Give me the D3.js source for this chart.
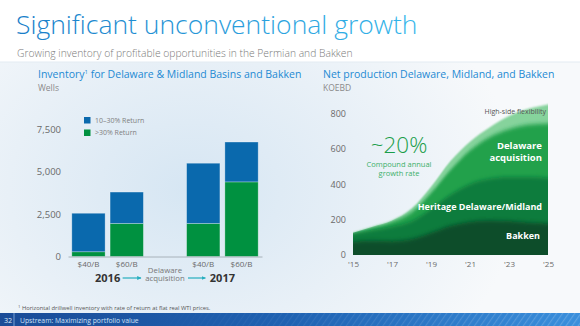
<!DOCTYPE html>
<html>
<head>
<meta charset="utf-8">
<script src="https://cdn.jsdelivr.net/npm/d3@7"></script>
<style>
  html, body { margin: 0; padding: 0; background: #fff; }
  svg { display: block; font-family: "Open Sans", sans-serif; }
</style>
</head>
<body>
<div id="chart"></div>
<script>
// inventory (wells) by price deck, before and after the Delaware acquisition
var invSlots = ["2016-40", "2016-60", "Delaware acquisition", "2017-40", "2017-60"];
var invLabels = ["$40/B", "$60/B", "$40/B", "$60/B"];
var invKeys = ["2016-40", "2016-60", "2017-40", "2017-60"];
var invHigh = [280, 1950, 1950, 4400];   // >30% return
var invMid = [2270, 1850, 3550, 2350];   // 10-30% return
var invTicks = [0, 2500, 5000, 7500];

// net production, KOEBD
var years = [2015, 2016, 2017, 2018, 2019, 2020, 2021, 2022, 2023, 2024, 2025];
var bakken = [75, 80, 78, 90, 125, 165, 188, 195, 192, 183, 178];
var heritage = [47, 60, 82, 100, 135, 175, 212, 235, 248, 257, 257];
var delaware = [0, 15, 28, 50, 90, 140, 190, 235, 270, 295, 307];
var highSide = [3, 5, 7, 22, 35, 50, 50, 55, 75, 90, 108];
var prodTicks = [0, 200, 400, 600, 800];
var yearTicks = [2015, 2017, 2019, 2021, 2023, 2025];

var W = 580, H = 326;
var svg = d3.select("#chart").append("svg")
    .attr("width", W)
    .attr("height", H);

var defs = svg.append("defs");

// page background
var bg = defs.append("radialGradient")
    .attr("id", "bg")
    .attr("gradientUnits", "userSpaceOnUse")
    .attr("cx", 190).attr("cy", 190).attr("r", 330)
    .attr("gradientTransform", "translate(190,190) scale(1,0.75) translate(-190,-190)");
bg.append("stop").attr("offset", 0).attr("stop-color", "#d6e6f3");
bg.append("stop").attr("offset", 0.55).attr("stop-color", "#e8f0f7");
bg.append("stop").attr("offset", 1).attr("stop-color", "#f7f9fb");

svg.append("rect").attr("width", W).attr("height", H).attr("fill", "#fff");
svg.append("rect")
    .attr("y", 62).attr("width", W).attr("height", H - 62)
    .attr("fill", "url(#bg)");
svg.append("line")
    .attr("x1", 0).attr("x2", W).attr("y1", 62).attr("y2", 62)
    .attr("stroke", "#e3ebf2").attr("stroke-width", 1);

// title
var tg = defs.append("linearGradient").attr("id", "titleGrad")
    .attr("x1", 0).attr("x2", 1).attr("y1", 0).attr("y2", 0);
tg.append("stop").attr("offset", 0).attr("stop-color", "#1a7dc8");
tg.append("stop").attr("offset", 1).attr("stop-color", "#35b6ea");

svg.append("text")
    .attr("x", 16).attr("y", 34)
    .attr("font-size", 26.5)
    .attr("font-weight", 300)
    .attr("fill", "url(#titleGrad)")
    .text("Significant unconventional growth");

svg.append("text")
    .attr("x", 17).attr("y", 56.5)
    .attr("font-size", 10.3)
    .attr("font-weight", 300)
    .attr("fill", "#7a7a7a")
    .text("Growing inventory of profitable opportunities in the Permian and Bakken");

// ---------- left: inventory bars ----------
var inv = svg.append("g");

inv.append("text")
    .attr("x", 38).attr("y", 78)
    .attr("font-size", 10.5)
    .attr("fill", "#1e8ad3")
    .call(function(t) {
      t.append("tspan").text("Inventory");
      t.append("tspan").attr("font-size", 6).attr("dy", -4).text("1");
      t.append("tspan").attr("dy", 4).text(" for Delaware & Midland Basins and Bakken");
    });
inv.append("text")
    .attr("x", 38).attr("y", 91)
    .attr("font-size", 8.5)
    .attr("fill", "#8a8a8a")
    .text("Wells");

var xb = d3.scaleBand()
    .domain(invSlots)
    .range([68, 262])
    .paddingInner(0.13)
    .paddingOuter(0.1);

var yb = d3.scaleLinear()
    .domain([0, 7500])
    .range([256.5, 129.3]);

var invRows = invKeys.map(function(k, i) {
  return { key: k, high: invHigh[i], mid: invMid[i] };
});
var invStack = d3.stack().keys(["high", "mid"])(invRows);
var invColors = { high: "#009140", mid: "#0a69ad" };

inv.selectAll("g.layer")
  .data(invStack)
  .join("g")
    .attr("class", "layer")
    .attr("fill", function(d) { return invColors[d.key]; })
  .selectAll("rect")
  .data(function(d) { return d; })
  .join("rect")
    .attr("x", function(d) { return xb(d.data.key); })
    .attr("width", xb.bandwidth())
    .attr("y", function(d) { return yb(d[1]); })
    .attr("height", function(d) { return yb(d[0]) - yb(d[1]); })
    .attr("stroke", "#ffffff")
    .attr("stroke-opacity", 0.35)
    .attr("stroke-width", 0.8);

// y axis labels only
inv.append("g")
    .attr("transform", "translate(61,0)")
    .call(d3.axisLeft(yb).tickValues(invTicks).tickSize(0).tickPadding(0).tickFormat(d3.format(",")))
    .call(function(g) { g.select(".domain").remove(); })
    .call(function(g) {
      g.selectAll("text")
        .attr("font-family", "'Open Sans', sans-serif")
        .attr("font-size", 9.5)
        .attr("fill", "#6a6a6a");
    });

// baseline + price deck labels
var xAxisB = d3.axisBottom(xb)
    .tickSize(0)
    .tickPadding(5)
    .tickFormat(function(d) {
      var i = invKeys.indexOf(d);
      return i < 0 ? "" : invLabels[i];
    });
inv.append("g")
    .attr("transform", "translate(0," + yb(0) + ")")
    .call(xAxisB)
    .call(function(g) {
      g.select(".domain").attr("stroke", "#9aa3ab").attr("stroke-width", 0.8);
      g.selectAll("text")
        .attr("font-family", "'Open Sans', sans-serif")
        .attr("font-size", 8)
        .attr("fill", "#6a6a6a");
    });

// "Delaware acquisition" under the empty slot
var acqX = xb("Delaware acquisition") + xb.bandwidth() / 2;
inv.append("text")
    .attr("x", acqX).attr("y", 272.5)
    .attr("text-anchor", "middle")
    .attr("font-size", 7.8).attr("fill", "#777")
    .text("Delaware");
inv.append("text")
    .attr("x", acqX).attr("y", 281)
    .attr("text-anchor", "middle")
    .attr("font-size", 7.8).attr("fill", "#777")
    .text("acquisition");

// year labels centred under each pair
var pairs = [["2016", "2016-40", "2016-60"], ["2017", "2017-40", "2017-60"]];
pairs.forEach(function(p) {
  var cx = (xb(p[1]) + xb(p[2]) + xb.bandwidth()) / 2;
  inv.append("text")
      .attr("x", cx).attr("y", 282)
      .attr("text-anchor", "middle")
      .attr("font-size", 11)
      .attr("font-weight", 700)
      .attr("fill", "#333")
      .text(p[0]);
});

// teal arrows either side of the acquisition label
defs.append("marker")
    .attr("id", "arrowHead")
    .attr("viewBox", "0 0 10 10")
    .attr("refX", 8).attr("refY", 5)
    .attr("markerWidth", 4).attr("markerHeight", 4)
    .attr("orient", "auto")
  .append("path")
    .attr("d", "M0,1 L9,5 L0,9 Z")
    .attr("fill", "#26aebf");

var yr2016 = (xb("2016-40") + xb("2016-60") + xb.bandwidth()) / 2;
var yr2017 = (xb("2017-40") + xb("2017-60") + xb.bandwidth()) / 2;
[[yr2016 + 15, acqX - 24], [acqX + 23, yr2017 - 17]].forEach(function(a) {
  inv.append("line")
      .attr("x1", a[0]).attr("x2", a[1])
      .attr("y1", 278).attr("y2", 278)
      .attr("stroke", "#26aebf")
      .attr("stroke-width", 1.2)
      .attr("marker-end", "url(#arrowHead)");
});

// legend
var legend = inv.append("g").attr("transform", "translate(84,117)");
[["10–30% Return", invColors.mid], [">30% Return", invColors.high]].forEach(function(l, i) {
  legend.append("rect")
      .attr("y", i * 12.5)
      .attr("width", 6.5).attr("height", 6.5)
      .attr("fill", l[1]);
  legend.append("text")
      .attr("x", 11).attr("y", i * 12.5 + 5.8)
      .attr("font-size", 7)
      .attr("fill", "#808080")
      .text(l[0]);
});

// ---------- right: production stacked area ----------
var prod = svg.append("g");

prod.append("text")
    .attr("x", 323).attr("y", 78)
    .attr("font-size", 10.5)
    .attr("fill", "#1e8ad3")
    .text("Net production Delaware, Midland, and Bakken");
prod.append("text")
    .attr("x", 323).attr("y", 91)
    .attr("font-size", 8.5)
    .attr("fill", "#8a8a8a")
    .text("KOEBD");

var xp = d3.scaleLinear().domain([2015, 2025]).range([353, 548]);
var yp = d3.scaleLinear().domain([0, 800]).range([255, 113.3]);

var prodRows = years.map(function(y, i) {
  return { year: y, bakken: bakken[i], heritage: heritage[i], delaware: delaware[i], highSide: highSide[i] };
});
var layerKeys = ["bakken", "heritage", "delaware", "highSide"];
var prodStack = d3.stack().keys(layerKeys)(prodRows);
var layerColors = { bakken: "#094d2a", heritage: "#0f7b3d", delaware: "#21a14c", highSide: "#86d39c" };

// soft vertical blur for the layer boundaries
defs.append("filter")
    .attr("id", "softEdge")
    .attr("x", "-0.05").attr("width", "1.1")
    .attr("y", "-0.3").attr("height", "1.6")
  .append("feGaussianBlur")
    .attr("stdDeviation", "0 2.2");
defs.append("filter")
    .attr("id", "softTop")
    .attr("x", "-0.05").attr("width", "1.1")
    .attr("y", "-0.3").attr("height", "1.6")
  .append("feGaussianBlur")
    .attr("stdDeviation", "0 1.2");

var outer = prodStack[prodStack.length - 1];

// each layer drawn from below the baseline up to its cumulative top
var layerArea = d3.area()
    .x(function(d) { return xp(d.data.year); })
    .y0(yp(-30))
    .y1(function(d) { return yp(d[1]); })
    .curve(d3.curveMonotoneX);

var envelope = d3.area()
    .x(function(d) { return xp(d.data.year); })
    .y0(yp(0))
    .y1(function(d) { return yp(d[1]); })
    .curve(d3.curveMonotoneX);

defs.append("clipPath").attr("id", "plotClip")
  .append("rect")
    .attr("x", xp(2015)).attr("width", xp(2025) - xp(2015))
    .attr("y", yp(900)).attr("height", yp(0) - yp(900));
defs.append("clipPath").attr("id", "envClip")
  .append("path")
    .attr("d", envelope(outer));

prod.append("g")
    .attr("clip-path", "url(#plotClip)")
  .append("path")
    .attr("d", layerArea(outer))
    .attr("fill", layerColors.highSide)
    .attr("filter", "url(#softTop)");

prod.append("g")
    .attr("clip-path", "url(#envClip)")
  .selectAll("path")
  .data(prodStack.slice(0, 3).reverse())
  .join("path")
    .attr("d", layerArea)
    .attr("fill", function(d) { return layerColors[d.key]; })
    .attr("filter", "url(#softEdge)");

// axes (labels only)
prod.append("g")
    .attr("transform", "translate(346,0)")
    .call(d3.axisLeft(yp).tickValues(prodTicks).tickSize(0).tickPadding(0))
    .call(function(g) { g.select(".domain").remove(); })
    .call(function(g) {
      g.selectAll("text")
        .attr("font-family", "'Open Sans', sans-serif")
        .attr("font-size", 9)
        .attr("fill", "#6a6a6a");
    });

prod.append("g")
    .attr("transform", "translate(0," + yp(0) + ")")
    .call(d3.axisBottom(xp).tickValues(yearTicks).tickSize(0).tickPadding(6)
      .tickFormat(function(d) { return "'" + String(d).slice(2); }))
    .call(function(g) { g.select(".domain").remove(); })
    .call(function(g) {
      g.selectAll("text")
        .attr("font-family", "'Open Sans', sans-serif")
        .attr("font-size", 8)
        .attr("fill", "#6a6a6a");
    });

// layer labels
var lbl = prod.append("g")
    .attr("text-anchor", "end")
    .attr("font-weight", 700)
    .attr("fill", "#fff");
lbl.append("text").attr("x", 542).attr("y", 149).attr("font-size", 9.5).text("Delaware");
lbl.append("text").attr("x", 542).attr("y", 160.5).attr("font-size", 9.5).text("acquisition");
lbl.append("text").attr("x", 542).attr("y", 210).attr("font-size", 9).text("Heritage Delaware/Midland");
lbl.append("text").attr("x", 540).attr("y", 238.5).attr("font-size", 9).text("Bakken");

prod.append("text")
    .attr("x", 546).attr("y", 114)
    .attr("text-anchor", "end")
    .attr("font-size", 7)
    .attr("fill", "#555")
    .text("High-side flexibility");

// growth callout
prod.append("text")
    .attr("x", 399).attr("y", 153)
    .attr("text-anchor", "middle")
    .attr("font-size", 22.5)
    .attr("font-weight", 300)
    .attr("fill", "#1a9e4a")
    .text("~20%");
prod.append("text")
    .attr("x", 399).attr("y", 167)
    .attr("text-anchor", "middle")
    .attr("font-size", 7.5)
    .attr("fill", "#3cb06a")
    .text("Compound annual");
prod.append("text")
    .attr("x", 399).attr("y", 175.5)
    .attr("text-anchor", "middle")
    .attr("font-size", 7.5)
    .attr("fill", "#3cb06a")
    .text("growth rate");

// ---------- footnote and footer ----------
svg.append("text")
    .attr("x", 18).attr("y", 310)
    .attr("font-size", 5.8)
    .attr("fill", "#555")
    .call(function(t) {
      t.append("tspan").attr("font-size", 4.2).attr("dy", -2).text("1");
      t.append("tspan").attr("dy", 2).text(" Horizontal drillwell inventory with rate of return at flat real WTI prices.");
    });

var fg = defs.append("linearGradient").attr("id", "footGrad")
    .attr("x1", 0).attr("x2", 1).attr("y1", 0).attr("y2", 0);
fg.append("stop").attr("offset", 0).attr("stop-color", "#1b4c97");
fg.append("stop").attr("offset", 0.5).attr("stop-color", "#1f62b2");
fg.append("stop").attr("offset", 1).attr("stop-color", "#3a8fdc");

var stripes = defs.append("pattern")
    .attr("id", "stripes")
    .attr("patternUnits", "userSpaceOnUse")
    .attr("width", 5).attr("height", 5)
    .attr("patternTransform", "rotate(35)");
stripes.append("rect").attr("width", 1.2).attr("height", 5).attr("fill", "#ffffff");

var sm = defs.append("linearGradient").attr("id", "stripeFade")
    .attr("x1", 0).attr("x2", 1).attr("y1", 0).attr("y2", 0);
sm.append("stop").attr("offset", 0.25).attr("stop-color", "#fff").attr("stop-opacity", 0);
sm.append("stop").attr("offset", 1).attr("stop-color", "#fff").attr("stop-opacity", 1);
defs.append("mask").attr("id", "stripeMask")
  .append("rect")
    .attr("y", 313).attr("width", W).attr("height", 13)
    .attr("fill", "url(#stripeFade)");

svg.append("rect")
    .attr("y", 313).attr("width", W).attr("height", 13)
    .attr("fill", "url(#footGrad)");
svg.append("rect")
    .attr("y", 313).attr("width", W).attr("height", 13)
    .attr("fill", "url(#stripes)")
    .attr("opacity", 0.18)
    .attr("mask", "url(#stripeMask)");

svg.append("text")
    .attr("x", 4).attr("y", 322.5)
    .attr("font-size", 7.2)
    .attr("fill", "#dfeaf7")
    .text("32");
svg.append("line")
    .attr("x1", 14).attr("x2", 14).attr("y1", 313).attr("y2", 326)
    .attr("stroke", "#8fb5e2").attr("stroke-width", 0.8);
svg.append("text")
    .attr("x", 20).attr("y", 322.5)
    .attr("font-size", 6.8)
    .attr("fill", "#cfe1f6")
    .text("Upstream:  Maximizing portfolio value");
</script>
</body>
</html>
